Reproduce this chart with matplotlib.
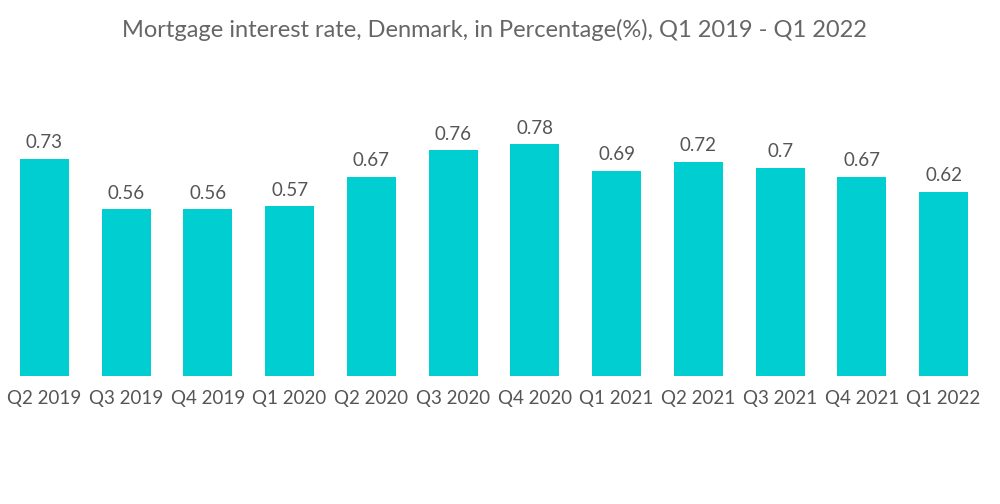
import matplotlib as mpl
mpl.use('Agg')
import matplotlib.pyplot as plt

#
#--- chart data
#
quarters = ['Q2 2019', 'Q3 2019', 'Q4 2019', 'Q1 2020', 'Q2 2020', 'Q3 2020',
            'Q4 2020', 'Q1 2021', 'Q2 2021', 'Q3 2021', 'Q4 2021', 'Q1 2022']
rates    = [0.73, 0.56, 0.56, 0.57, 0.67, 0.76, 0.78, 0.69, 0.72, 0.7, 0.67, 0.62]
labels   = ['0.73', '0.56', '0.56', '0.57', '0.67', '0.76', '0.78', '0.69', '0.72', '0.7', '0.67', '0.62']

plt.rcParams['font.family'] = ['Lato', 'DejaVu Sans']

fig = plt.figure(figsize=(10.0, 5.04), dpi=100)
ax  = fig.add_axes([0.0035, 0.254, 0.981, 0.531])

x = list(range(len(quarters)))
ax.bar(x, rates, width=0.6, color='#00CED1')
#
#--- value labels above bars
#
for xi, yi, lab in zip(x, rates, labels):
    ax.text(xi, yi + 0.025, lab, ha='center', va='bottom', fontsize=13.5, color='#555555')

ax.set_xlim(-0.5, len(quarters) - 0.5)
ax.set_ylim(0, 0.9)
ax.set_xticks(x)
ax.set_xticklabels(quarters, fontsize=13.5, color='#555555')
ax.tick_params(axis='x', length=0, pad=10)
ax.set_yticks([])
for s in ax.spines.values():
    s.set_visible(False)

fig.text(0.494, 0.94, 'Mortgage interest rate, Denmark, in Percentage(%), Q1 2019 - Q1 2022',
         ha='center', va='center', fontsize=17, color='#666666')

plt.savefig('out.png', dpi=100)
plt.close('all')
